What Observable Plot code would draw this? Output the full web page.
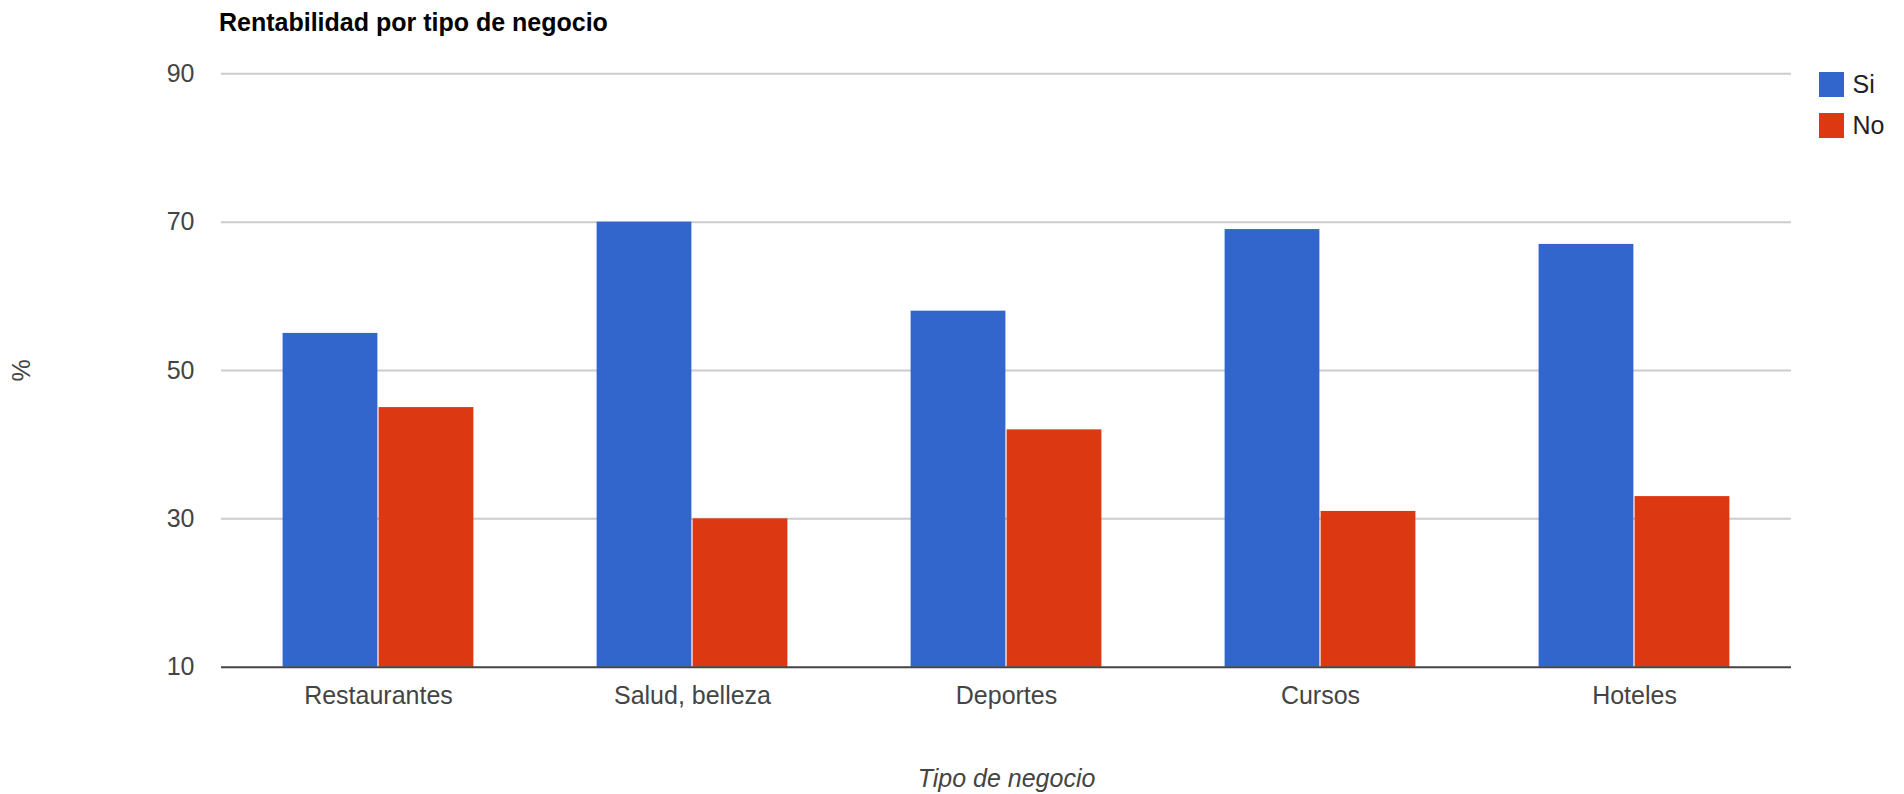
<!DOCTYPE html>
<html>
<head>
<meta charset="utf-8">
<script src="https://cdn.jsdelivr.net/npm/d3@7"></script>
<script src="https://cdn.jsdelivr.net/npm/@observablehq/plot@0.6"></script>
<style>
  html, body { margin: 0; padding: 0; background: #fff; overflow: hidden; }
  #wrap { position: relative; width: 1904px; height: 794px; font-family: "Liberation Sans", Arial, Helvetica, sans-serif; }
  #title { position: absolute; left: 219px; top: 2px; line-height: 40px; font-size: 25px; font-weight: bold; color: #000; white-space: nowrap; }
  #chart { position: absolute; left: 0; top: 40px; }
  #legend { position: absolute; left: 1819px; top: 70px; }
  #legend .lg-swatch { padding-bottom: 11.5px !important; color: #222; }
  #legend .lg-swatch svg { margin-right: 8.5px !important; }
  #chart svg [aria-label="fx-axis label"] text, #chart svg [aria-label="fx-axis label"] { font-style: italic; }
</style>
</head>
<body>
<div id="wrap">
  <div id="title">Rentabilidad por tipo de negocio</div>
  <div id="chart"></div>
  <div id="legend"></div>
</div>
<script>
// Tipos de negocio y porcentaje de respuestas "Si" / "No"
const categorias = ["Restaurantes", "Salud, belleza", "Deportes", "Cursos", "Hoteles"];
const series = ["Si", "No"];
const valoresSi = [55, 70, 58, 69, 67];
const valoresNo = [45, 30, 42, 31, 33];
const yTicks = [10, 30, 50, 70, 90];
const colores = ["#3366cc", "#dc3912"];

const filas = categorias.flatMap((c, i) => [
  {categoria: c, serie: "Si", valor: valoresSi[i]},
  {categoria: c, serie: "No", valor: valoresNo[i]}
]);

const fuente = '"Liberation Sans", Arial, Helvetica, sans-serif';

const chart = Plot.plot({
  width: 1904,
  height: 754,
  marginLeft: 219,
  marginRight: 111,
  marginTop: 33.3,
  marginBottom: 127.3,
  style: {fontFamily: fuente, fontSize: "25px", color: "#444", background: "white", overflow: "visible"},
  facet: {data: filas, x: "categoria"},
  fx: {
    domain: categorias, padding: 0, axis: "bottom", tickSize: 0, tickPadding: 19,
    label: "Tipo de negocio", labelAnchor: "center", labelOffset: 120
  },
  x: {domain: series, paddingInner: 0, paddingOuter: 0.62, axis: null},
  y: {
    domain: [10, 90], ticks: yTicks, tickSize: 0, tickPadding: 27,
    label: "%", labelAnchor: "center", labelOffset: 209, labelArrow: false
  },
  color: {domain: series, range: colores},
  marks: [
    Plot.ruleY(yTicks.slice(1), {stroke: "#cccccc", strokeWidth: 2}),
    Plot.barY(filas, {x: "serie", y: "valor", fill: "serie", insetLeft: 0.6, insetRight: 0.6, clip: true}),
    Plot.ruleY([10], {stroke: "#444", strokeWidth: 2})
  ]
});
document.getElementById("chart").appendChild(chart);

const leyenda = Plot.legend({
  color: {domain: series, range: colores},
  legend: "swatches",
  columns: 1,
  swatchSize: 25,
  className: "lg",
  style: {fontFamily: fuente, fontSize: "25px", color: "#222"}
});
document.getElementById("legend").appendChild(leyenda);
</script>
</body>
</html>
